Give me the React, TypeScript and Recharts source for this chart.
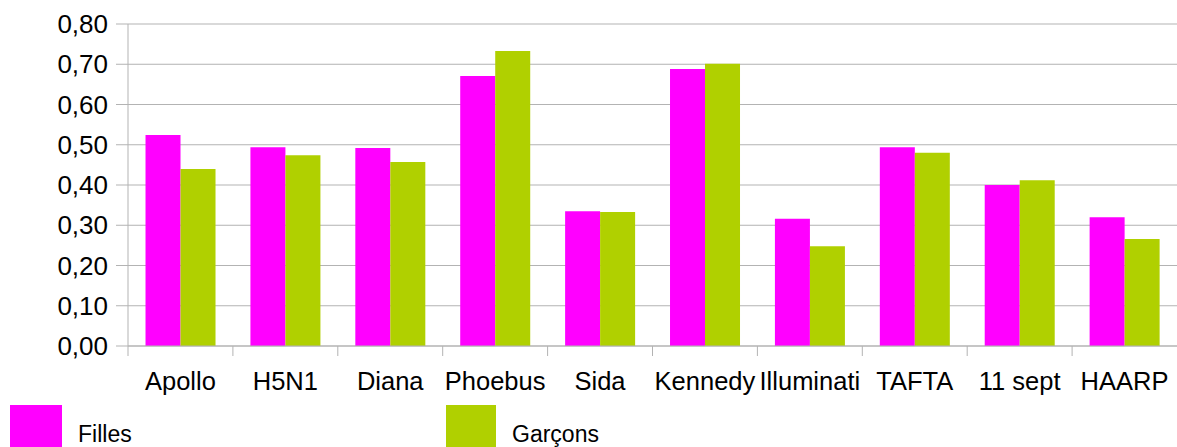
import React from 'react'
import { BarChart, Bar, XAxis, YAxis, CartesianGrid } from 'recharts'

const categories = ['Apollo', 'H5N1', 'Diana', 'Phoebus', 'Sida', 'Kennedy', 'Illuminati', 'TAFTA', '11 sept', 'HAARP']
const filles = [0.524, 0.494, 0.492, 0.671, 0.335, 0.688, 0.316, 0.494, 0.4, 0.32]
const garcons = [0.44, 0.474, 0.457, 0.733, 0.333, 0.701, 0.248, 0.48, 0.412, 0.266]
const yTicks = [0, 0.1, 0.2, 0.3, 0.4, 0.5, 0.6, 0.7, 0.8]

const data = categories.map((name, i) => ({ name, filles: filles[i], garcons: garcons[i] }))

const font = '"Liberation Sans", Arial, sans-serif'
const gridColor = '#b3b3b3'
const magenta = '#ff00ff'
const green = '#b0d000'

// category ticks sit on the band boundaries, labels in the middle
const CategoryTick = (props: any) => {
  const { x, y, payload, width, visibleTicksCount } = props
  const band = width / visibleTicksCount
  return (
    <g>
      <line x1={x - band / 2} x2={x - band / 2} y1={y - 10} y2={y} stroke={gridColor} />
      <text x={x} y={y + 34} textAnchor="middle" fill="#000" fontSize={25.5} fontFamily={font}>
        {payload.value}
      </text>
    </g>
  )
}

export default function App() {
  return (
    <div style={{ position: 'absolute', left: 0, top: 0, width: 1177, height: 447, background: '#fff', fontFamily: font }}>
      <BarChart
        width={1177}
        height={447}
        data={data}
        margin={{ top: 24, right: 0, left: 0, bottom: 0 }}
        barCategoryGap="16.7%"
        barGap={0}
      >
        <CartesianGrid vertical={false} stroke={gridColor} />
        <XAxis
          dataKey="name"
          height={101}
          interval={0}
          tickSize={10}
          tickMargin={0}
          tickLine={false}
          axisLine={{ stroke: gridColor }}
          tick={<CategoryTick />}
        />
        <YAxis
          width={128}
          domain={[0, 0.8]}
          ticks={yTicks}
          tickSize={12}
          tickMargin={8}
          axisLine={{ stroke: gridColor }}
          tickLine={{ stroke: gridColor }}
          tick={{ fill: '#000', fontSize: 26, fontFamily: font }}
          tickFormatter={(v: number) => v.toFixed(2).replace('.', ',')}
        />
        <Bar dataKey="filles" name="Filles" fill={magenta} isAnimationActive={false} />
        <Bar dataKey="garcons" name="Garçons" fill={green} isAnimationActive={false} />
      </BarChart>

      <div style={{ position: 'absolute', left: 10, top: 405, width: 52, height: 42, background: magenta }} />
      <div style={{ position: 'absolute', left: 78, top: 420, fontSize: 23, lineHeight: '28px', color: '#000' }}>Filles</div>
      <div style={{ position: 'absolute', left: 446, top: 405, width: 50, height: 42, background: green }} />
      <div style={{ position: 'absolute', left: 512, top: 420, fontSize: 23, lineHeight: '28px', color: '#000' }}>Garçons</div>
    </div>
  )
}
